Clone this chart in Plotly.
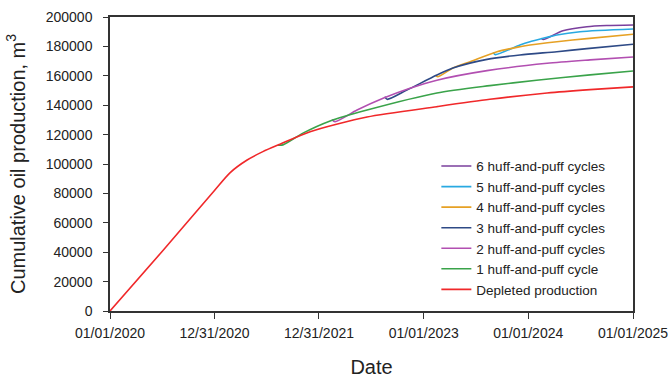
import plotly.graph_objects as go

# Depleted production
dep_dates = ["2020-01-01", "2020-07-01", "2020-12-31", "2021-02-23", "2021-04-24", "2021-06-18",
             "2021-08-17", "2021-11-30", "2022-06-17", "2023-02-16", "2023-08-20", "2024-03-07",
             "2024-08-04", "2025-01-01"]
dep_vals = [0, 40500, 82000, 94000, 102700, 108400, 113500, 122000, 132000, 139000, 144000, 148300,
            150600, 152500]

# 1 huff-and-puff cycle
c1_dates = ["2021-08-10", "2021-08-27", "2021-11-05", "2022-02-08", "2022-06-17", "2023-02-16",
            "2023-08-20", "2024-01-30", "2024-08-04", "2025-01-01"]
c1_vals = [112800, 113000, 121000, 129300, 136700, 148300, 153300, 157000, 160600, 163300]

# 2 huff-and-puff cycles
c2_dates = ["2022-02-14", "2022-02-25", "2022-05-13", "2022-08-12", "2022-11-14", "2023-02-16",
            "2023-08-10", "2024-03-07", "2024-08-04", "2025-01-01"]
c2_vals = [130200, 128800, 136700, 144700, 151500, 157000, 163500, 168500, 170800, 172800]

# 3 huff-and-puff cycles
c3_dates = ["2022-08-18", "2022-08-26", "2022-11-03", "2023-02-16", "2023-04-13", "2023-08-10",
            "2023-12-03", "2024-04-10", "2024-07-24", "2025-01-01"]
c3_vals = [145800, 144000, 150300, 160500, 165300, 171200, 174200, 176400, 178500, 181500]

# 4 huff-and-puff cycles
c4_dates = ["2023-02-12", "2023-02-20", "2023-04-13", "2023-06-12", "2023-09-14", "2023-12-03",
            "2024-01-07", "2024-04-10", "2024-07-24", "2025-01-01"]
c4_vals = [160000, 159400, 165300, 169600, 176400, 179800, 181000, 183200, 185300, 188300]

# 5 huff-and-puff cycles
c5_dates = ["2023-09-01", "2023-09-08", "2023-12-03", "2024-01-07", "2024-02-22", "2024-03-07",
            "2024-04-10", "2024-06-30", "2025-01-01"]
c5_vals = [176000, 174400, 181000, 183200, 185500, 186200, 187800, 190000, 191800]

# 6 huff-and-puff cycles
c6_dates = ["2024-02-16", "2024-02-23", "2024-05-01", "2024-07-24", "2024-10-01", "2025-01-01"]
c6_vals = [185400, 184700, 190600, 193400, 194200, 194600]

tick_vals = ["2020-01-01", "2020-12-31", "2021-12-31", "2023-01-01", "2024-01-01", "2025-01-01"]
tick_text = ["01/01/2020", "12/31/2020", "12/31/2021", "01/01/2023", "01/01/2024", "01/01/2025"]

series = [
    ("6 huff-and-puff cycles", c6_dates, c6_vals, "#7A3F9D"),
    ("5 huff-and-puff cycles", c5_dates, c5_vals, "#29A9E1"),
    ("4 huff-and-puff cycles", c4_dates, c4_vals, "#E6A124"),
    ("3 huff-and-puff cycles", c3_dates, c3_vals, "#2E4A86"),
    ("2 huff-and-puff cycles", c2_dates, c2_vals, "#B24FB1"),
    ("1 huff-and-puff cycle", c1_dates, c1_vals, "#3AA34A"),
    ("Depleted production", dep_dates, dep_vals, "#F0282A"),
]

fig = go.Figure()
for name, d, v, c in series:
    fig.add_trace(go.Scatter(x=d, y=v, mode="lines", name=name,
                             line=dict(color=c, width=1.6, shape="spline", smoothing=0.7)))

font_family = "Liberation Sans, Arial, sans-serif"
fig.update_layout(
    width=671, height=378,
    margin=dict(l=110, r=38, t=17, b=67),
    paper_bgcolor="white", plot_bgcolor="white",
    font=dict(family=font_family, color="#222222", size=14),
    showlegend=True,
    legend=dict(x=0.624, y=0.545, xanchor="left", yanchor="top",
                bgcolor="rgba(0,0,0,0)", font=dict(size=13.5, color="#222222"),
                tracegroupgap=0),
    xaxis=dict(
        type="date", range=["2020-01-01", "2025-01-01"], automargin=False,
        tickvals=tick_vals, ticktext=tick_text,
        ticks="outside", ticklen=6, tickwidth=1.3, tickcolor="#333333",
        showline=True, linecolor="#333333", linewidth=1.5, mirror=True,
        showgrid=False, zeroline=False, ticklabelstandoff=2,
        tickfont=dict(size=14),
        title=dict(text="Date", font=dict(size=20), standoff=28),
    ),
    yaxis=dict(
        range=[0, 200000], dtick=20000, tickformat="d", automargin=False,
        ticks="outside", ticklen=5, tickwidth=1.3, tickcolor="#333333",
        showline=True, linecolor="#333333", linewidth=1.5, mirror=True,
        showgrid=False, zeroline=False, ticklabelstandoff=8,
        tickfont=dict(size=14),
        title=dict(text="Cumulative oil production, m<sup>3</sup>", font=dict(size=20), standoff=15),
    ),
)

fig.write_html("out.html")
